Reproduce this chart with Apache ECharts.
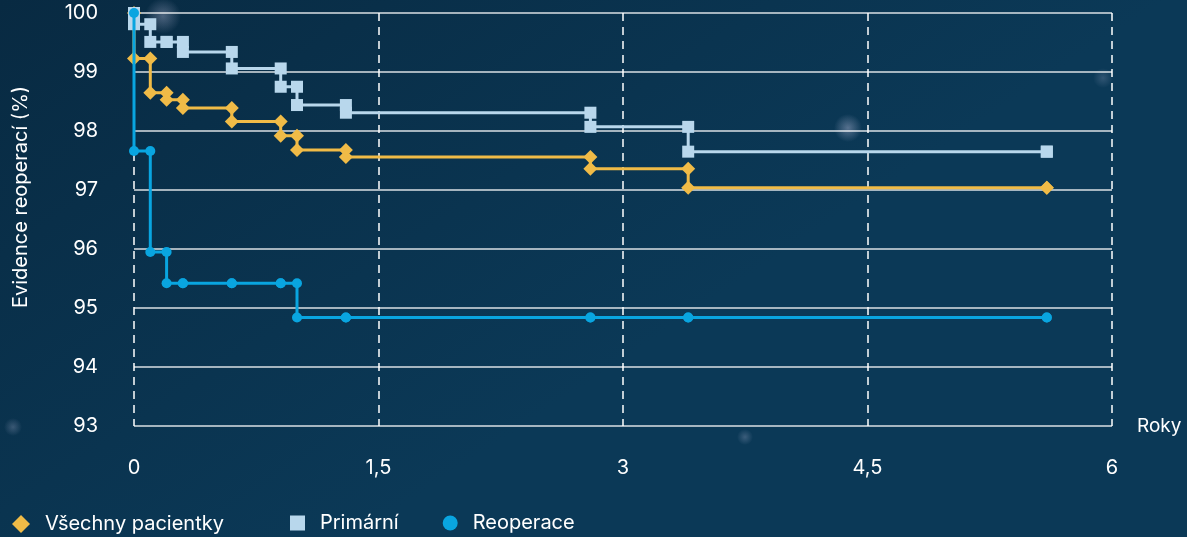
<!DOCTYPE html>
<html>
<head>
<meta charset="utf-8">
<script src="https://cdn.jsdelivr.net/npm/echarts@6/dist/echarts.min.js"></script>
<style>
html,body{margin:0;padding:0;width:1187px;height:537px;overflow:hidden;background:#0a2f49;}
#c{width:1187px;height:537px;}
</style>
</head>
<body>
<div id="c"></div>
<script>
// Event times (years)
var times = [0, 0.1, 0.2, 0.3, 0.6, 0.9, 1.0, 1.3, 2.8, 3.4, 5.6];
// Value after each event (%), starting from 100
var startValue = 100;
var allPatients = [99.23, 98.65, 98.53, 98.39, 98.16, 97.92, 97.68, 97.56, 97.36, 97.04, 97.04];
var primary     = [99.81, 99.51, 99.51, 99.34, 99.06, 98.75, 98.44, 98.31, 98.07, 97.65, 97.65];
var reoperation = [97.66, 95.95, 95.42, 95.42, 95.42, 95.42, 94.84, 94.84, 94.84, 94.84, 94.84];
var xTicks = [0, 1.5, 3, 4.5, 6];
var yTicks = [93, 94, 95, 96, 97, 98, 99, 100];
var seriesNames = ['Všechny pacientky', 'Primární', 'Reoperace'];

function stepData(vals) {
  var out = [[times[0], startValue]];
  var prev = startValue;
  for (var i = 0; i < times.length; i++) {
    if (i > 0) out.push([times[i], prev]);
    out.push([times[i], vals[i]]);
    prev = vals[i];
  }
  return out;
}

function glow(x, y, r, a) {
  return {
    type: 'circle', silent: true, z: -10,
    shape: {cx: x, cy: y, r: r},
    style: {fill: {type: 'radial', x: 0.5, y: 0.5, r: 0.5,
      colorStops: [{offset: 0, color: 'rgba(200,200,230,' + a + ')'}, {offset: 1, color: 'rgba(200,200,230,0)'}]}}
  };
}

var chart = echarts.init(document.getElementById('c'));
var fontFam = 'Inter, "Noto Sans", sans-serif';
var legendText = {color: '#ffffff', fontSize: 20, fontFamily: fontFam, padding: [0, 0, 0, 10]};
chart.setOption({
  backgroundColor: {type: 'linear', x: 0, y: 0, x2: 0.3, y2: 1,
    colorStops: [{offset: 0, color: '#082a42'}, {offset: 1, color: '#0b3957'}]},
  animation: false,
  textStyle: {fontFamily: fontFam},
  graphic: [
    glow(163, 16, 18, 0.35),
    glow(848, 128, 14, 0.4),
    glow(1103, 78, 10, 0.2),
    glow(13, 427, 9, 0.25),
    glow(745, 437, 8, 0.25),
    {
      type: 'text', rotation: Math.PI / 2, position: [21, 197],
      style: {text: 'Evidence reoperací (%)', fill: '#ffffff', font: '20px ' + fontFam,
        textAlign: 'center', textVerticalAlign: 'middle', x: 0, y: 0}
    }
  ],
  grid: {left: 134, right: 75, top: 13, bottom: 111, containLabel: false},
  legend: [
    {
      left: 7, bottom: -2, itemWidth: 18, itemHeight: 18,
      textStyle: legendText,
      data: [{name: seriesNames[0], icon: 'diamond'}]
    },
    {
      left: 285, bottom: -1, itemGap: 44, itemWidth: 15, itemHeight: 15,
      textStyle: legendText,
      data: [{name: seriesNames[1], icon: 'rect'}, {name: seriesNames[2], icon: 'circle'}]
    }
  ],
  xAxis: {
    type: 'value', min: 0, max: 6, interval: 1.5,
    name: 'Roky', nameLocation: 'end', nameGap: 25,
    nameTextStyle: {color: '#ffffff', fontSize: 19, verticalAlign: 'middle', align: 'left'},
    axisLine: {show: false}, axisTick: {show: false},
    axisLabel: {color: '#ffffff', fontSize: 20, margin: 32,
      formatter: function (v) { return xTicks.indexOf(v) >= 0 ? String(v).replace('.', ',') : ''; }},
    splitLine: {show: true, lineStyle: {color: '#ffffff', width: 1.5, type: [8, 6]}}
  },
  yAxis: {
    type: 'value', min: 93, max: 100, interval: 1,
    axisLine: {show: false}, axisTick: {show: false},
    axisLabel: {color: '#ffffff', fontSize: 20, margin: 36,
      formatter: function (v) { return yTicks.indexOf(v) >= 0 ? String(v) : ''; }},
    splitLine: {show: true, lineStyle: {color: 'rgba(255,255,255,0.85)', width: 1.5}}
  },
  series: [
    {
      name: seriesNames[0], type: 'line', data: stepData(allPatients), z: 3,
      symbol: 'diamond', symbolSize: 14, showAllSymbol: true,
      lineStyle: {color: '#f0bb47', width: 3}, itemStyle: {color: '#f0bb47'}
    },
    {
      name: seriesNames[1], type: 'line', data: stepData(primary), z: 4,
      symbol: 'rect', symbolSize: 12, showAllSymbol: true,
      lineStyle: {color: '#b8d7ec', width: 3}, itemStyle: {color: '#b8d7ec'}
    },
    {
      name: seriesNames[2], type: 'line', data: stepData(reoperation), z: 5,
      symbol: 'circle', symbolSize: 10, showAllSymbol: true,
      lineStyle: {color: '#09a5e0', width: 3}, itemStyle: {color: '#09a5e0'}
    }
  ]
});
</script>
</body>
</html>
